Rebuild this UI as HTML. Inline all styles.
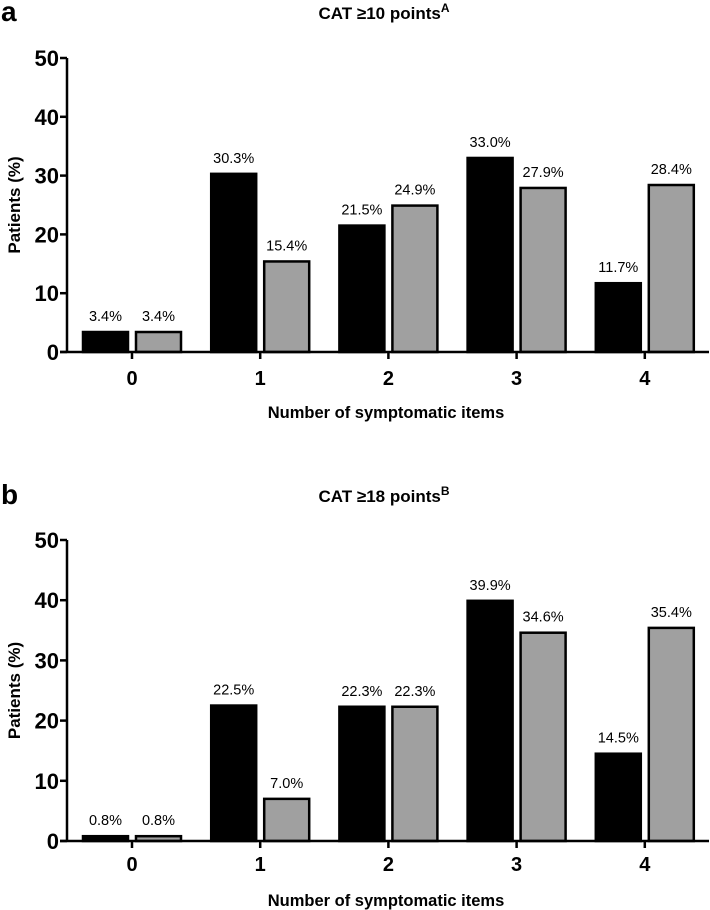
<!DOCTYPE html>
<html><head><meta charset="utf-8"><style>
body{margin:0;background:#fff}
svg{display:block;font-family:"Liberation Sans",sans-serif}
</style></head><body>
<svg id="chart" width="710" height="910"></svg>
<script>
const categories=["0","1","2","3","4"];
const seriesA1=[3.4,30.3,21.5,33.0,11.7];
const seriesA2=[3.4,15.4,24.9,27.9,28.4];
const seriesB1=[0.8,22.5,22.3,39.9,14.5];
const seriesB2=[0.8,7.0,22.3,34.6,35.4];
const yTicks=[0,10,20,30,40,50];
const NS="http://www.w3.org/2000/svg";
const svg=document.getElementById('chart');
function mk(tag,attrs,parent,text){const e=document.createElementNS(NS,tag);for(const k in attrs)e.setAttribute(k,attrs[k]);if(text!==undefined)e.textContent=text;(parent||svg).appendChild(e);return e;}
function panel(letter,title,sup,s1,s2,y0,y50,tickLblY,xLblY,titleY,name){
  const g=mk('g',{});
  
  
  const yS=v=>y0+(y50-y0)*v/50;
  const xS=i=>132+i*128.2;
  const l=mk('text',{x:1,y:titleY+9,'font-size':28,'font-weight':'bold'},g,letter);
  
  
  const t=mk('text',{x:384,y:titleY+7,'font-size':17,'font-weight':'bold','text-anchor':'middle'},g);
  
  
  mk('tspan',{},t,title);mk('tspan',{dy:-7,'font-size':12},t,sup);
  categories.forEach((c,i)=>{
    const cx=xS(i);
    [[s1[i],'#000',cx-50],[s2[i],'#a0a0a0',cx+3]].forEach(([v,col,x],k)=>{
      const r=mk('rect',{x:x+1,y:yS(v),width:45,height:y0-yS(v),fill:col,stroke:'#000','stroke-width':2.5},g);
      
      
      const lb=mk('text',{x:x+23.5,y:yS(v)-11,'font-size':14.5,'text-anchor':'middle'},g,v.toFixed(1)+'%');
      
      
    });
    mk('line',{x1:cx,x2:cx,y1:y0,y2:y0+7,stroke:'#000','stroke-width':2.5},g);
    const tl=mk('text',{x:cx,y:tickLblY,'font-size':20,'font-weight':'bold','text-anchor':'middle'},g,c);
    
    
  });
  mk('line',{x1:67,x2:67,y1:y50,y2:y0+1,stroke:'#000','stroke-width':2.5},g);
  mk('line',{x1:60,x2:709,y1:y0,y2:y0,stroke:'#000','stroke-width':2.5},g);
  yTicks.forEach(v=>{
    mk('line',{x1:60,x2:67,y1:yS(v),y2:yS(v),stroke:'#000','stroke-width':2.5},g);
    const tl=mk('text',{x:59,y:yS(v)+8,'font-size':22,'font-weight':'bold','text-anchor':'end'},g,v);
    
    
  });
  const yt=mk('text',{transform:`translate(20,${(y0+y50)/2}) rotate(-90)`,'font-size':17,'font-weight':'bold','text-anchor':'middle'},g,'Patients (%)');
  
  
  const xt=mk('text',{x:386,y:xLblY,'font-size':16.5,'font-weight':'bold','text-anchor':'middle'},g,'Number of symptomatic items');
  
  
}
panel('a','CAT \u226510 points','A',seriesA1,seriesA2,352,58,385,418,12,'panel-a');
panel('b','CAT \u226518 points','B',seriesB1,seriesB2,841,540,871,906,495,'panel-b');
</script>
</body></html>
